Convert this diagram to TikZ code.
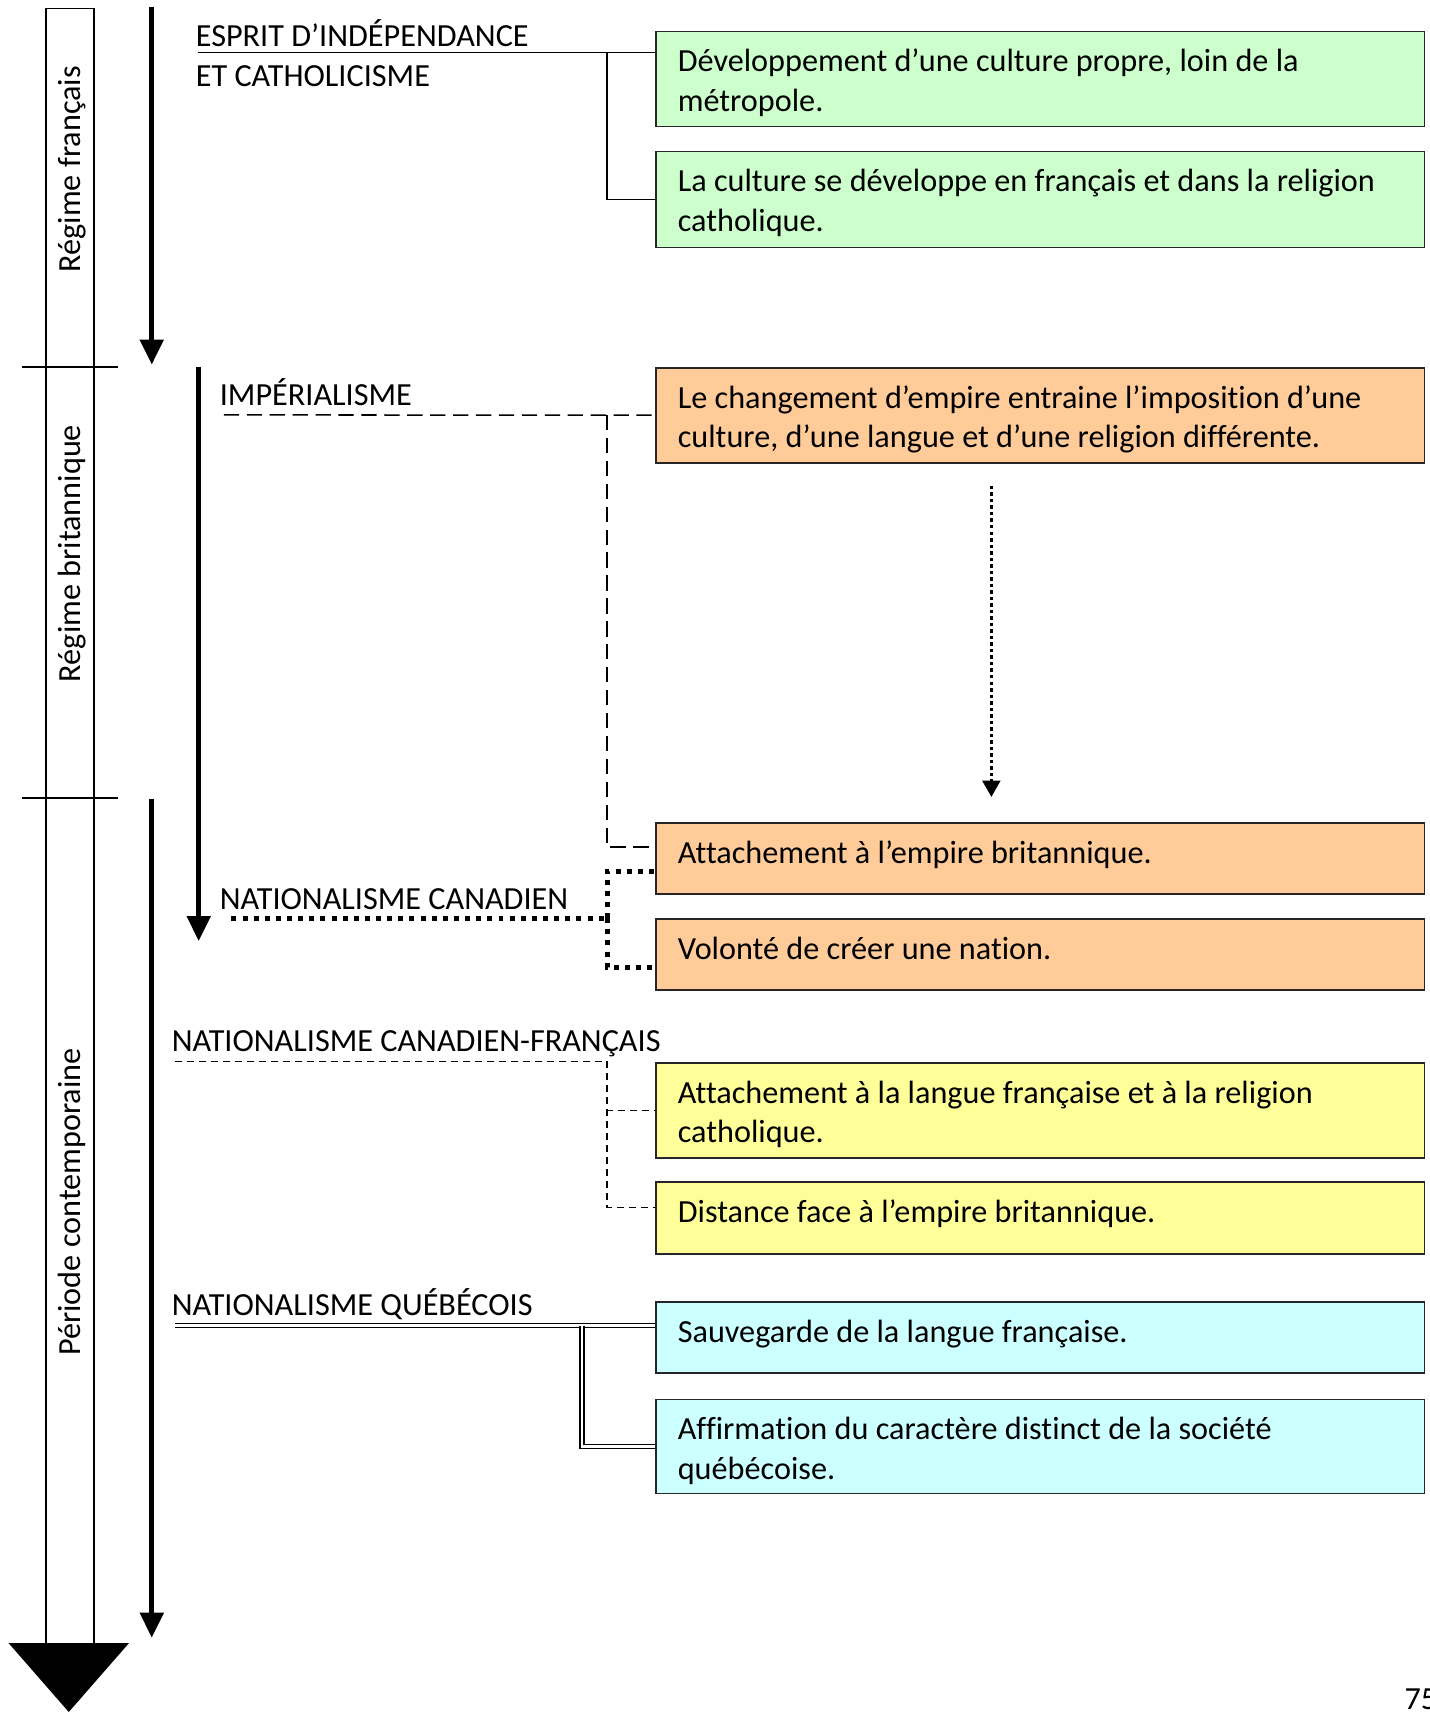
\documentclass[tikz,border=0pt]{standalone}
\usepackage{fontspec}
\setmainfont[Ligatures={TeX,NoCommon}]{Carlito}
\frenchspacing
\usetikzlibrary{arrows.meta,positioning}

\definecolor{vertpale}{HTML}{CCFFCC}
\definecolor{peche}{HTML}{FFCC99}
\definecolor{jaunepale}{HTML}{FFFF99}
\definecolor{cyanpale}{HTML}{CCFFFF}

\begin{document}
\begin{tikzpicture}[x=0.02cm, y=-0.02cm,
  every node/.style={font=\fontsize{16.8}{20.5}\selectfont},
  idea/.style={draw=black!85, line width=0.9pt, anchor=north west, minimum width=14.08cm,
    text width=13.28cm, inner xsep=0.4cm, inner ysep=0pt, align=flush left,
    text height=0.74cm, text depth=1.0cm},
  oneline/.style={text depth=0.56cm},
  title/.style={anchor=base west, inner sep=0pt},
  era/.style={rotate=90, inner sep=0pt},
  timeline/.style={line width=2.8pt, -{Triangle[width=0.42cm,length=0.46cm]}},
  column/.style={line width=0.7pt},
  solidlink/.style={line width=0.8pt},
  dashlink/.style={line width=0.8pt, dash pattern=on 0.28cm off 0.14cm},
  finedash/.style={line width=0.8pt, dash pattern=on 0.13cm off 0.09cm},
  dotlink/.style={line width=2.6pt, dash pattern=on 2.6pt off 3.2pt},
  twinlink/.style={double, double distance=1.3pt, line width=0.7pt},
  dotarrow/.style={line width=1.8pt, dash pattern=on 1.8pt off 1.6pt,
    -{Triangle[width=0.32cm,length=0.3cm]}}]

  \useasboundingbox (0,0) rectangle (1309,1568);

  % period column on the left
  \draw[column] (42,1505) -- (42,8) -- (86,8) -- (86,1505);
  \draw[column] (20,336) -- (108,336);
  \draw[column] (20,731) -- (108,731);
  \fill (8,1505) -- (118,1505) -- (63,1568) -- cycle;
  \node[era] (fr) at (66,155) {Régime français};
  \node[era] (br) at (66,507) {Régime britannique};
  \node[era] (co) at (66,1101) {Période contemporaine};

  % timeline arrows
  \draw[timeline] (139,6) -- (139,334);
  \draw[timeline] (182,336) -- (182,862);
  \draw[timeline] (139,732) -- (139,1500);

  % idea boxes
  \node[idea, fill=vertpale] (cult1) at (600,28)
    {Développement d’une culture propre, loin de la\\ métropole.};
  \node[idea, fill=vertpale, text depth=1.02cm] (cult2) at (600,138)
    {La culture se développe en français et dans la religion\\ catholique.};
  \node[idea, fill=peche] (emp1) at (600,336)
    {Le changement d’empire entraine l’imposition d’une\\ culture, d’une langue et d’une religion différente.};
  \node[idea, oneline, fill=peche] (emp2) at (600,753)
    {Attachement à l’empire britannique.};
  \node[idea, oneline, fill=peche] (emp3) at (600,841)
    {Volonté de créer une nation.};
  \node[idea, fill=jaunepale] (cf1) at (600,973)
    {Attachement à la langue française et à la religion\\ catholique.};
  \node[idea, oneline, fill=jaunepale, text depth=0.58cm] (cf2) at (600,1082)
    {Distance face à l’empire britannique.};
  \node[idea, oneline, fill=cyanpale] (qc1) at (600,1192)
    {Sauvegarde de la langue française.};
  \node[idea, fill=cyanpale, text depth=0.98cm] (qc2) at (600,1281)
    {Affirmation du caractère distinct de la société\\ québécoise.};

  % ideologies
  \node[title] (esprit) at (179,43) {ESPRIT D’INDÉPENDANCE};
  \node[title] (catho) at (179,79) {ET CATHOLICISME};
  \node[title] (imper) at (201,371) {IMPÉRIALISME};
  \node[title] (natcan) at (201,833) {NATIONALISME CANADIEN};
  \node[title] (natcf) at (157,963) {NATIONALISME CANADIEN-FRANÇAIS};
  \node[title] (natqc) at (157,1205) {NATIONALISME QUÉBÉCOIS};

  % esprit d'indépendance
  \coordinate (e0) at (181,48);
  \coordinate (e1) at (556,48);
  \draw[solidlink] (e0) -- (e0 -| cult1.west);
  \draw[solidlink] (e1) |- (cult2.west);

  % impérialisme
  \coordinate (i0) at (205,380);
  \coordinate (i1) at (556,380);
  \draw[dashlink] (i0) -- (emp1.west);
  \draw[dashlink] (i1) |- ([yshift=0.21cm]emp2.west);
  \coordinate (d0) at (908,445);
  \coordinate (d1) at (908,730);
  \draw[dotarrow] (d0) -- (d1);

  % nationalisme canadien
  \coordinate (n0) at (212,841);
  \coordinate (n1) at (556,841);
  \draw[dotlink] (n0) -- (n1);
  \draw[dotlink] (n1) |- ([yshift=-0.23cm]emp2.west);
  \draw[dotlink] (n1) |- ([yshift=-0.23cm]emp3.west);

  % nationalisme canadien-français
  \coordinate (c0) at (160,972);
  \coordinate (c1) at (556,972);
  \draw[finedash] (c0) -- (c1) |- (cf1.west);
  \draw[finedash] (c1) |- ([yshift=0.2cm]cf2.west);

  % nationalisme québécois
  \coordinate (q0) at (160,1214);
  \coordinate (q1) at (533,1214);
  \draw[twinlink] (q0) -- (q0 -| qc1.west);
  \draw[twinlink] (q1) |- (qc2.west);

  % page number
  \node[title] (page) at (1286,1566) {75};
\end{tikzpicture}
\end{document}
